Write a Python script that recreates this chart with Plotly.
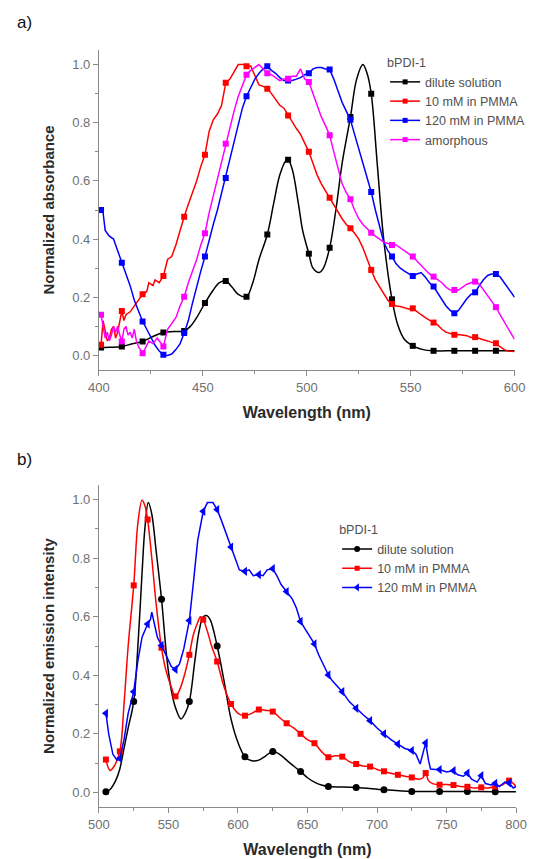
import plotly.graph_objects as go

# ---------------- a) absorption spectra ----------------
abs_dilute_wl = [400, 401, 405, 411, 416, 421, 426, 431, 436, 441, 444, 447, 451, 455, 458, 461,
                 464, 467, 471, 474, 477, 481, 484, 487, 490, 491, 493, 496, 498, 501, 503, 506,
                 508, 511, 514, 517, 521, 524, 527, 529, 531, 534, 537, 541, 544, 547, 551, 556,
                 561, 571, 581, 591, 600]
abs_dilute = [0.027, 0.027, 0.028, 0.031, 0.040, 0.048, 0.065, 0.079, 0.082, 0.084, 0.100, 0.130,
              0.180, 0.225, 0.250, 0.256, 0.235, 0.210, 0.202, 0.250, 0.330, 0.416, 0.520, 0.620,
              0.670, 0.673, 0.640, 0.520, 0.430, 0.350, 0.300, 0.285, 0.300, 0.370, 0.500, 0.660,
              0.820, 0.950, 1.000, 0.970, 0.900, 0.650, 0.400, 0.193, 0.100, 0.055, 0.033, 0.020,
              0.016, 0.016, 0.016, 0.016, 0.016]

abs_10mM_wl = [400, 401, 402, 403, 404, 405, 406, 407, 408, 409, 411, 412, 413, 415, 417, 419,
               421, 423, 424, 426, 427, 429, 431, 433, 435, 437, 439, 441, 443, 445, 447, 449,
               451, 453, 455, 457, 459, 461, 463, 465, 467, 470, 471, 473, 475, 477, 479, 481,
               483, 485, 487, 489, 491, 493, 495, 497, 499, 501, 503, 505, 507, 509, 511, 513,
               515, 517, 519, 521, 523, 525, 527, 529, 531, 533, 535, 537, 539, 541, 543, 545,
               547, 549, 551, 553, 555, 557, 559, 561, 563, 565, 567, 569, 571, 573, 575, 577,
               579, 581, 583, 585, 587, 589, 591, 593, 595, 597, 600]
abs_10mM = [0.030, 0.037, 0.120, 0.080, 0.050, 0.060, 0.090, 0.100, 0.060, 0.080, 0.153, 0.120,
            0.140, 0.150, 0.170, 0.190, 0.210, 0.220, 0.250, 0.240, 0.260, 0.250, 0.273, 0.330,
            0.340, 0.380, 0.430, 0.477, 0.520, 0.560, 0.600, 0.650, 0.690, 0.770, 0.810, 0.830,
            0.860, 0.937, 0.950, 0.975, 1.000, 1.000, 0.994, 0.995, 0.960, 0.930, 0.925, 0.917,
            0.900, 0.880, 0.860, 0.850, 0.825, 0.800, 0.780, 0.760, 0.730, 0.700, 0.660, 0.620,
            0.590, 0.565, 0.542, 0.515, 0.490, 0.470, 0.450, 0.437, 0.420, 0.400, 0.370, 0.330,
            0.294, 0.260, 0.235, 0.210, 0.190, 0.177, 0.170, 0.168, 0.165, 0.160, 0.162, 0.150,
            0.140, 0.130, 0.120, 0.113, 0.105, 0.090, 0.080, 0.075, 0.071, 0.072, 0.070, 0.068,
            0.062, 0.063, 0.058, 0.055, 0.050, 0.045, 0.042, 0.030, 0.020, 0.015, 0.014]

abs_120mM_wl = [400, 401, 402, 403, 405, 407, 409, 411, 413, 415, 417, 419, 421, 423, 425, 427,
                429, 431, 433, 435, 437, 439, 441, 443, 445, 447, 449, 451, 453, 455, 457, 459,
                461, 463, 465, 467, 469, 471, 473, 475, 477, 479, 481, 483, 485, 487, 489, 491,
                493, 495, 497, 499, 501, 503, 505, 507, 509, 511, 513, 515, 517, 519, 521, 523,
                525, 527, 529, 531, 533, 535, 537, 539, 541, 543, 545, 547, 549, 551, 553, 555,
                557, 559, 561, 563, 565, 567, 569, 571, 573, 575, 577, 579, 581, 583, 585, 587,
                589, 591, 593, 595, 597, 600]
abs_120mM = [0.500, 0.500, 0.490, 0.430, 0.410, 0.400, 0.360, 0.319, 0.280, 0.240, 0.190, 0.150,
             0.117, 0.090, 0.060, 0.035, 0.015, 0.002, 0.000, 0.005, 0.020, 0.040, 0.077, 0.120,
             0.180, 0.240, 0.290, 0.340, 0.400, 0.450, 0.500, 0.560, 0.610, 0.680, 0.740, 0.800,
             0.850, 0.891, 0.920, 0.950, 0.970, 0.985, 0.994, 0.980, 0.970, 0.955, 0.945, 0.945,
             0.945, 0.950, 0.955, 0.965, 0.970, 0.985, 0.990, 0.990, 0.985, 0.983, 0.950, 0.910,
             0.870, 0.840, 0.810, 0.760, 0.710, 0.660, 0.610, 0.562, 0.500, 0.440, 0.390, 0.360,
             0.340, 0.315, 0.300, 0.290, 0.280, 0.273, 0.280, 0.285, 0.270, 0.250, 0.237, 0.215,
             0.190, 0.170, 0.155, 0.145, 0.155, 0.175, 0.195, 0.210, 0.217, 0.240, 0.260, 0.275,
             0.280, 0.280, 0.270, 0.250, 0.230, 0.200]

abs_amorph_wl = [400, 401, 402, 403, 404, 405, 406, 407, 408, 409, 410, 411, 412, 413, 414, 415,
                 416, 417, 418, 419, 421, 422, 424, 426, 428, 430, 431, 433, 435, 437, 439, 441,
                 443, 445, 447, 449, 451, 453, 455, 457, 459, 461, 463, 465, 467, 469, 471, 473,
                 475, 477, 479, 481, 483, 485, 487, 489, 491, 493, 495, 497, 499, 501, 503, 505,
                 507, 509, 511, 513, 515, 517, 519, 521, 523, 525, 527, 529, 531, 533, 535, 537,
                 539, 541, 543, 545, 547, 549, 551, 553, 555, 557, 559, 561, 563, 565, 567, 569,
                 571, 573, 575, 577, 579, 581, 583, 585, 587, 589, 591, 593, 595, 597, 600]
abs_amorph = [0.140, 0.140, 0.100, 0.060, 0.080, 0.050, 0.070, 0.100, 0.080, 0.100, 0.070, 0.048,
              0.090, 0.100, 0.070, 0.080, 0.060, 0.090, 0.050, 0.030, 0.008, 0.020, 0.050, 0.040,
              0.060, 0.040, 0.031, 0.090, 0.110, 0.130, 0.170, 0.202, 0.250, 0.290, 0.330, 0.380,
              0.420, 0.490, 0.550, 0.610, 0.670, 0.728, 0.780, 0.840, 0.890, 0.930, 0.965, 0.980,
              0.990, 1.000, 0.985, 0.970, 0.965, 0.955, 0.945, 0.950, 0.951, 0.960, 0.960, 0.985,
              0.950, 0.940, 0.900, 0.860, 0.820, 0.790, 0.757, 0.700, 0.640, 0.590, 0.560, 0.537,
              0.500, 0.470, 0.450, 0.435, 0.422, 0.410, 0.400, 0.390, 0.385, 0.380, 0.380, 0.370,
              0.360, 0.350, 0.340, 0.325, 0.310, 0.295, 0.280, 0.271, 0.260, 0.250, 0.235, 0.225,
              0.225, 0.225, 0.235, 0.245, 0.250, 0.254, 0.245, 0.225, 0.205, 0.185, 0.166, 0.140,
              0.115, 0.090, 0.055]

abs_marker_wl = list(range(401, 600, 10))

# ---------------- b) emission spectra ----------------
em_dilute_wl = [505, 508, 512, 515, 518, 521, 525, 528, 531, 533, 535.5, 538, 541, 545, 549, 552,
                555, 559, 562, 565, 569, 572, 575, 577.5, 580, 585, 590, 595, 600, 605, 610, 615,
                620, 625, 630, 635, 640, 645, 650, 655, 660, 665, 685, 705, 725, 745, 765, 785, 800]
em_dilute = [0.002, 0.010, 0.040, 0.080, 0.150, 0.220, 0.310, 0.500, 0.750, 0.900, 0.990, 0.950,
             0.830, 0.660, 0.450, 0.350, 0.290, 0.251, 0.270, 0.310, 0.450, 0.550, 0.600, 0.604,
             0.590, 0.500, 0.380, 0.250, 0.170, 0.122, 0.108, 0.110, 0.125, 0.140, 0.130, 0.110,
             0.090, 0.071, 0.050, 0.035, 0.025, 0.020, 0.017, 0.009, 0.003, 0.003, 0.003, 0.002,
             0.002]

em_10mM_wl = [505, 508, 511, 515, 518, 521, 525, 528, 531, 533, 535, 538, 541, 545, 548, 552,
              555, 558, 562, 565, 568, 571, 573, 575, 578, 581, 585, 590, 595, 600, 605, 610,
              615, 620, 625, 630, 635, 640, 645, 650, 655, 660, 665, 670, 675, 680, 685, 690,
              695, 700, 705, 710, 715, 720, 725, 730, 733, 735, 737, 740, 745, 750, 755, 760,
              765, 770, 775, 780, 785, 790, 795, 800]
em_10mM = [0.112, 0.075, 0.090, 0.140, 0.300, 0.500, 0.707, 0.920, 0.998, 0.980, 0.932, 0.800,
           0.650, 0.494, 0.420, 0.360, 0.328, 0.350, 0.410, 0.470, 0.540, 0.580, 0.600, 0.590,
           0.550, 0.500, 0.447, 0.360, 0.302, 0.270, 0.262, 0.270, 0.283, 0.280, 0.276, 0.255,
           0.236, 0.220, 0.200, 0.180, 0.168, 0.140, 0.120, 0.125, 0.122, 0.105, 0.097, 0.090,
           0.088, 0.078, 0.072, 0.065, 0.060, 0.055, 0.051, 0.045, 0.050, 0.066, 0.040, 0.030,
           0.026, 0.027, 0.025, 0.020, 0.019, 0.015, 0.017, 0.015, 0.020, 0.025, 0.040, 0.020]

em_120mM_wl = [505, 507, 510, 513, 515, 518, 521, 525, 528, 531, 535, 537, 538, 540, 542, 545,
               548, 552, 555, 558, 561, 565, 568, 571, 575, 578, 582, 585, 588, 591, 595, 598,
               601, 605, 608, 611, 615, 618, 621, 625, 628, 631, 635, 639, 642, 645, 648, 652,
               655, 658, 662, 665, 668, 672, 675, 680, 685, 690, 695, 700, 705, 710, 715, 720,
               725, 728, 731, 733, 735, 737, 738.5, 742, 745, 750, 755, 758, 762, 765, 768, 772,
               775, 778, 782, 785, 788, 792, 795, 798, 800]
em_120mM = [0.270, 0.200, 0.130, 0.110, 0.116, 0.180, 0.270, 0.344, 0.450, 0.530, 0.575, 0.590,
            0.616, 0.570, 0.530, 0.502, 0.470, 0.430, 0.420, 0.440, 0.490, 0.587, 0.720, 0.860,
            0.960, 0.990, 0.990, 0.966, 0.930, 0.890, 0.838, 0.800, 0.760, 0.755, 0.760, 0.740,
            0.744, 0.740, 0.760, 0.764, 0.740, 0.710, 0.686, 0.661, 0.630, 0.584, 0.560, 0.530,
            0.507, 0.470, 0.430, 0.401, 0.380, 0.360, 0.344, 0.310, 0.287, 0.265, 0.245, 0.220,
            0.200, 0.180, 0.165, 0.150, 0.143, 0.130, 0.097, 0.130, 0.169, 0.110, 0.080, 0.078,
            0.078, 0.070, 0.074, 0.060, 0.055, 0.066, 0.045, 0.035, 0.057, 0.030, 0.025, 0.031,
            0.020, 0.035, 0.032, 0.015, 0.020]

em_dilute_marker_wl = list(range(505, 800, 20))
em_film_marker_wl = list(range(505, 800, 10))

BLACK, RED, BLUE, MAGENTA = "#000000", "#ff0000", "#0000ff", "#ff00ff"
FONT = "Arial, 'Liberation Sans', sans-serif"

fig = go.Figure()


def add_series(wl, val, marker_wl, name, color, symbol, msize, xa, ya, legend, shape="linear"):
    # continuous curve
    fig.add_trace(go.Scatter(x=wl, y=val, mode="lines", line=dict(color=color, width=1.5, shape=shape),
                             xaxis=xa, yaxis=ya, showlegend=False, hoverinfo="skip"))
    # symbols on a sparser subset of the measured points
    keep = set(marker_wl)
    mx = [w for w in wl if w in keep]
    my = [v for w, v in zip(wl, val) if w in keep]
    fig.add_trace(go.Scatter(x=mx, y=my, mode="markers",
                             marker=dict(color=color, symbol=symbol, size=msize, line=dict(width=0)),
                             xaxis=xa, yaxis=ya, showlegend=False))
    # legend entry
    fig.add_trace(go.Scatter(x=[None], y=[None], mode="lines+markers", name=name,
                             line=dict(color=color, width=1.5),
                             marker=dict(color=color, symbol=symbol, size=msize - 1, line=dict(width=0)),
                             xaxis=xa, yaxis=ya, legend=legend))


add_series(abs_dilute_wl, abs_dilute, abs_marker_wl, "dilute solution", BLACK, "square", 6, "x", "y", "legend", "spline")
add_series(abs_10mM_wl, abs_10mM, abs_marker_wl, "10 mM in PMMA", RED, "square", 6, "x", "y", "legend")
add_series(abs_120mM_wl, abs_120mM, abs_marker_wl, "120 mM in PMMA", BLUE, "square", 6, "x", "y", "legend")
add_series(abs_amorph_wl, abs_amorph, abs_marker_wl, "amorphous", MAGENTA, "square", 6, "x", "y", "legend")

add_series(em_dilute_wl, em_dilute, em_dilute_marker_wl, "dilute solution", BLACK, "circle", 7, "x2", "y2", "legend2", "spline")
add_series(em_10mM_wl, em_10mM, em_film_marker_wl, "10 mM in PMMA", RED, "square", 6, "x2", "y2", "legend2", "spline")
add_series(em_120mM_wl, em_120mM, em_film_marker_wl, "120 mM in PMMA", BLUE, "triangle-left", 8, "x2", "y2", "legend2")

W, H = 540, 859
AX_GREY = "#8a8a8a"
TICK_FONT = dict(family=FONT, size=13, color="#707070")
YTITLE_FONT = dict(family=FONT, size=15, color="#2a2a2a")
XTITLE_FONT = dict(family=FONT, size=16, color="#2a2a2a")
LEG_FONT = dict(family=FONT, size=12.5, color="#505050")

axis_common = dict(showline=True, linecolor=AX_GREY, linewidth=1, ticks="outside", ticklen=5,
                   tickcolor=AX_GREY, tickwidth=1, showgrid=False, zeroline=False,
                   tickfont=TICK_FONT, mirror=False)
y_ticks = dict(tickvals=[0, 0.2, 0.4, 0.6, 0.8, 1.0], ticktext=["0.0", "0.2", "0.4", "0.6", "0.8", "1.0"],
               minor=dict(tickvals=[0.1, 0.3, 0.5, 0.7, 0.9], ticks="outside", ticklen=3, tickcolor=AX_GREY))

fig.update_layout(
    width=W, height=H, margin=dict(l=0, r=0, t=0, b=0),
    paper_bgcolor="white", plot_bgcolor="white",
    font=dict(family=FONT),
    xaxis=dict(domain=[91.7 / W, 525 / W], range=[400, 600], tickvals=[400, 450, 500, 550, 600],
               minor=dict(tickvals=[425, 475, 525, 575], ticks="outside", ticklen=3, tickcolor=AX_GREY),
               title=dict(text="<b>Wavelength (nm)</b>", font=XTITLE_FONT, standoff=13),
               anchor="y", **axis_common),
    yaxis=dict(domain=[1 - 370 / H, 1 - 50 / H], range=[-0.05, 1.05], **y_ticks,
               title=dict(text="<b>Normalized absorbance</b>", font=YTITLE_FONT, standoff=14),
               anchor="x", **axis_common),
    xaxis2=dict(domain=[91.7 / W, 526.5 / W], range=[500, 800],
                tickvals=[500, 550, 600, 650, 700, 750, 800],
                minor=dict(tickvals=[525, 575, 625, 675, 725, 775], ticks="outside", ticklen=3, tickcolor=AX_GREY),
                title=dict(text="<b>Wavelength (nm)</b>", font=XTITLE_FONT, standoff=13),
                anchor="y2", **axis_common),
    yaxis2=dict(domain=[1 - 807 / H, 1 - 485 / H], range=[-0.05, 1.05], **y_ticks,
                title=dict(text="<b>Normalized emission intensity</b>", font=YTITLE_FONT, standoff=14),
                anchor="x2", **axis_common),
    legend=dict(x=390 / W, y=1 - 51 / H, xanchor="left", yanchor="top", bgcolor="rgba(0,0,0,0)",
                font=LEG_FONT, tracegroupgap=0,
                title=dict(text="bPDI-1", font=LEG_FONT), itemwidth=30),
    legend2=dict(x=340 / W, y=1 - 518 / H, xanchor="left", yanchor="top", bgcolor="rgba(0,0,0,0)",
                 font=LEG_FONT, tracegroupgap=0,
                 title=dict(text="bPDI-1", font=LEG_FONT), itemwidth=30),
    annotations=[
        dict(text="a)", x=4 / W, y=1 - 23 / H, xref="paper", yref="paper", xanchor="left", yanchor="middle",
             showarrow=False, font=dict(family=FONT, size=17, color="#111111")),
        dict(text="b)", x=4 / W, y=1 - 459 / H, xref="paper", yref="paper", xanchor="left", yanchor="middle",
             showarrow=False, font=dict(family=FONT, size=17, color="#111111")),
    ],
)

fig.write_html("out.html")
